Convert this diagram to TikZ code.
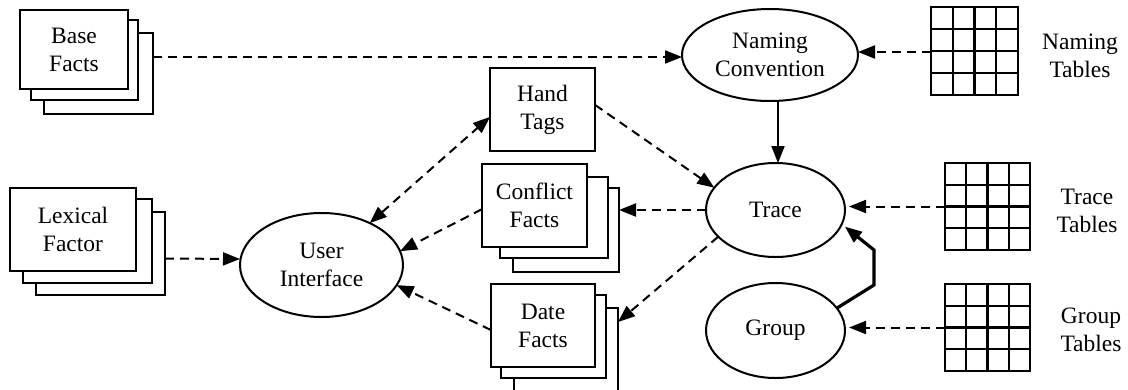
\documentclass[tikz,border=0pt]{standalone}
\usepackage{fontspec}
\setmainfont{Liberation Serif}
\usetikzlibrary{arrows.meta,shapes.geometric,calc}

\tikzset{
  lbl/.style={font=\fontsize{23.5}{28}\selectfont, align=center},
  card/.style={draw, fill=white, line width=2pt, inner sep=0pt, outer sep=0pt, lbl},
  oval/.style={ellipse, draw, line width=2pt, inner sep=0pt, outer sep=0pt, lbl},
  tablegrid/.style={draw, line width=2.2pt, inner sep=0pt, outer sep=0pt,
    path picture={
      \foreach \f in {0.25,0.5,0.75}{
        \draw[line width=2.2pt]
          ($(path picture bounding box.south west)!\f!(path picture bounding box.south east)$) --
          ($(path picture bounding box.north west)!\f!(path picture bounding box.north east)$);
        \draw[line width=2.2pt]
          ($(path picture bounding box.south west)!\f!(path picture bounding box.north west)$) --
          ($(path picture bounding box.south east)!\f!(path picture bounding box.north east)$);
      }}},
  tip/.style={-{Triangle[length=17pt,width=13pt]}},
  flow/.style={line width=2pt, dash pattern=on 9pt off 6pt, tip},
  both/.style={line width=2pt, dash pattern=on 9pt off 6pt,
    {Triangle[length=17pt,width=13pt]}-{Triangle[length=17pt,width=13pt]}},
  solidflow/.style={line width=2pt, tip},
  heavyflow/.style={line width=3.2pt, line join=miter, tip},
}

\begin{document}
\begin{tikzpicture}[x=1pt, y=-1pt]
\useasboundingbox (0,0) rectangle (1128,389);
\clip (0,0) rectangle (1128,389);

% stacked fact sources
\node[card, minimum width=109pt, minimum height=81pt] (base3) at (98.5,73.5) {};
\node[card, minimum width=107pt, minimum height=80pt] (base2) at (84.5,60) {};
\node[card, minimum width=108pt, minimum height=79pt] (base) at (74,49.5) {Base\\Facts};

\node[card, minimum width=129pt, minimum height=83pt] (lex3) at (100.5,253.5) {};
\node[card, minimum width=129pt, minimum height=84pt] (lex2) at (87.5,241) {};
\node[card, minimum width=126pt, minimum height=83pt] (lex) at (73,229.5) {Lexical\\Factor};

\node[card, minimum width=105pt, minimum height=83pt] (hand) at (542.5,109.5) {Hand\\Tags};

\node[card, minimum width=106pt, minimum height=84pt] (conf3) at (566,230) {};
\node[card, minimum width=108pt, minimum height=81pt] (conf2) at (554,217.5) {};
\node[card, minimum width=105pt, minimum height=83pt] (conf) at (534.5,205.5) {Conflict\\Facts};

\node[card, minimum width=104pt, minimum height=83pt] (date3) at (566,349.5) {};
\node[card, minimum width=105pt, minimum height=83pt] (date2) at (553.5,336.5) {};
\node[card, minimum width=104pt, minimum height=83pt] (date) at (543,325.5) {Date\\Facts};

% processes
\node[oval, minimum width=176pt, minimum height=92pt] (naming) at (770,55) {Naming\\Convention};
\node[oval, minimum width=163pt, minimum height=104pt] (ui) at (321.5,265) {User\\Interface};
\node[oval, minimum width=139pt, minimum height=94pt] (trace) at (775.5,210) {Trace};
\node[oval, minimum width=139pt, minimum height=95pt] (group) at (775.5,330.5) {Group};

% lookup tables
\node[tablegrid, minimum width=87pt, minimum height=88pt] (namingtab) at (974.5,51) {};
\node[tablegrid, minimum width=85pt, minimum height=87pt] (tracetab) at (987.5,206.5) {};
\node[tablegrid, minimum width=85pt, minimum height=87pt] (grouptab) at (987.5,327.5) {};

\node[lbl] (naminglbl) at (1080,56) {Naming\\Tables};
\node[lbl] (tracelbl) at (1087,211) {Trace\\Tables};
\node[lbl] (grouplbl) at (1091,330) {Group\\Tables};

% data flow
\draw[flow] ([yshift=16.5pt]base3.east) -- ([yshift=-2pt]naming.west);
\draw[flow] ([yshift=-1pt]namingtab.west) -- ([yshift=3pt]naming.east);
\draw[solidflow] ([xshift=2.5pt]trace.north |- naming.south) -- ([xshift=2.5pt]trace.north);
\draw[flow, shorten >=4pt] (tracetab.west) -- (tracetab.west -| trace.east);
\draw[flow, shorten >=4pt] (grouptab.west) -- (grouptab.west -| group.east);

\coordinate (g1) at (874,285);
\coordinate (g2) at (874,250);
\draw[heavyflow, shorten >=4pt] (group.20) -- (g1) -- (g2) -- (trace.-12);

\draw[flow] (hand.5) -- (trace.160);
\draw[flow] (trace.west) -- (trace.west -| conf3.east);
\draw[flow] (trace.205) -- ([yshift=-14pt]date3.north east);

\draw[both] (ui.41) -- (hand.188);
\draw[flow] (conf.184) -- (ui.10);
\draw[flow] (date.185) -- (ui.-15);
\draw[flow] ([yshift=-5pt]lex3.east) -- ([yshift=6pt]ui.west);
\end{tikzpicture}
\end{document}
